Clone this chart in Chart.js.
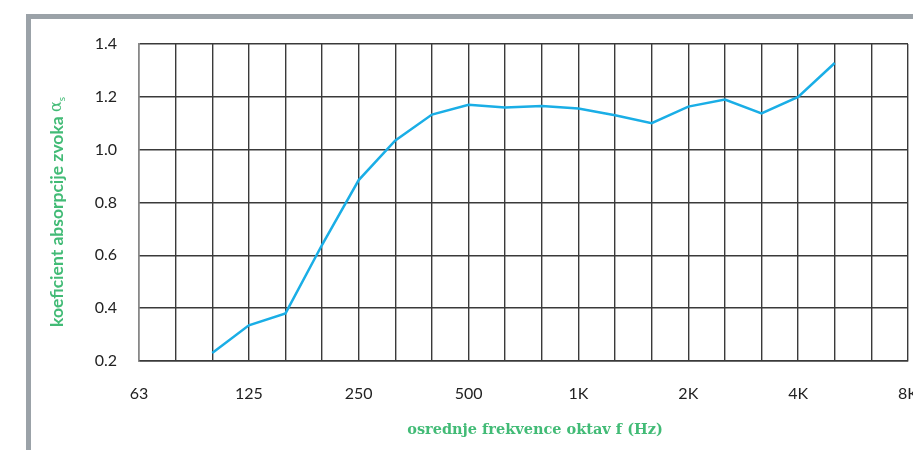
<!DOCTYPE html>
<html>
<head>
<meta charset="utf-8">
<script src="https://cdn.jsdelivr.net/npm/chart.js@4/dist/chart.umd.min.js"></script>
<style>
  html, body { margin: 0; padding: 0; background: #fff; overflow: hidden; }
  #wrap { position: relative; width: 913px; height: 450px; }
  #frame { position: absolute; left: 26px; top: 14px; right: -10px; bottom: -10px;
           border-top: 5px solid #9ba2a8; border-left: 5px solid #9ba2a8; }
  canvas { position: absolute; left: 0; top: 0; }
</style>
</head>
<body>
<div id="wrap">
  <div id="frame"></div>
  <canvas id="chart" width="913" height="450"></canvas>
</div>
<script>
// third-octave bands
const bands = ['63','80','100','125','160','200','250','315','400','500','630','800',
               '1K','1.25K','1.6K','2K','2.5K','3.15K','4K','5K','6.3K','8K']
const shownLabels = ['63','125','250','500','1K','2K','4K','8K']
const absorption = [null, null, 0.23, 0.335, 0.38, 0.64, 0.885, 1.035, 1.133, 1.17, 1.16, 1.165,
                    1.156, 1.13, 1.10, 1.163, 1.19, 1.137, 1.20, 1.328, null, null]
const yTicks = [0.2, 0.4, 0.6, 0.8, 1.0, 1.2, 1.4]

const green = '#42bb76'
const tickFont = { family: 'Lato', size: 16 }

const titles = {
  id: 'titles',
  afterDraw(chart) {
    const ctx = chart.ctx
    ctx.save()
    ctx.fillStyle = green
    // x title
    ctx.font = 'bold 14.5px "DejaVu Serif"'
    ctx.textAlign = 'center'
    ctx.textBaseline = 'middle'
    ctx.fillText('osrednje frekvence oktav f (Hz)', 535, 430)
    // y title, rotated, with subscript s
    ctx.translate(57, 212)
    ctx.rotate(-Math.PI / 2)
    const main = 'koeficient absorpcije zvoka '
    const alpha = 'α'
    ctx.font = 'bold 17.5px Lato'
    const w1 = ctx.measureText(main).width
    ctx.font = '16px "DejaVu Serif"'
    const w2 = ctx.measureText(alpha).width
    ctx.font = '10px Lato'
    const w3 = ctx.measureText('s').width
    let x = -(w1 + w2 + w3) / 2
    ctx.textAlign = 'left'
    ctx.font = 'bold 17.5px Lato'
    ctx.fillText(main, x, 0)
    x += w1
    ctx.font = '16px "DejaVu Serif"'
    ctx.fillText(alpha, x, 0)
    x += w2
    ctx.font = '10px Lato'
    ctx.fillText('s', x, 5)
    ctx.restore()
  }
}

new Chart(document.getElementById('chart'), {
  type: 'line',
  data: {
    labels: bands,
    datasets: [{
      data: absorption,
      borderColor: '#1aaee6',
      borderWidth: 2.5,
      pointRadius: 0,
      tension: 0,
      spanGaps: false
    }]
  },
  options: {
    responsive: false,
    animation: false,
    layout: { padding: { left: 0, right: 5, top: 44, bottom: 0 } },
    plugins: { legend: { display: false }, tooltip: { enabled: false } },
    scales: {
      x: {
        type: 'category',
        offset: false,
        grid: { color: '#3a3a3a', lineWidth: 1.4, drawTicks: false },
        border: { color: '#3a3a3a', width: 1.4 },
        ticks: {
          autoSkip: false,
          maxRotation: 0,
          padding: 23,
          color: '#222',
          font: tickFont,
          callback: function (v, i) {
            const l = bands[i]
            return shownLabels.includes(l) ? l : ''
          }
        },
        afterFit(scale) {
          scale.height = 89
          scale.paddingLeft = 0
          scale.paddingRight = 0
        }
      },
      y: {
        min: 0.2,
        max: 1.4,
        afterBuildTicks(scale) {
          scale.ticks = yTicks.map(v => ({ value: v }))
        },
        grid: { color: '#3a3a3a', lineWidth: 1.4, drawTicks: false },
        border: { color: '#888', width: 1.4 },
        ticks: {
          padding: 22,
          color: '#222',
          font: tickFont,
          callback: v => v.toFixed(1)
        },
        afterFit(scale) {
          scale.width = 139
        }
      }
    }
  },
  plugins: [titles]
})
</script>
</body>
</html>
